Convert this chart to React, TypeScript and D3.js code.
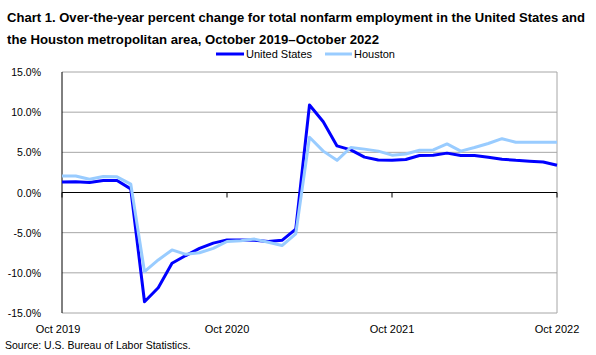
import React from "react";
import * as d3 from "d3";

const usValues = [1.3, 1.35, 1.25, 1.5, 1.5, 0.45, -13.6, -11.85, -8.8, -7.85, -6.95, -6.3, -5.9, -5.9, -5.95, -6.1, -5.95, -4.55, 10.9, 8.8, 5.8, 5.3, 4.4, 4.05, 4.0, 4.1, 4.6, 4.65, 4.9, 4.6, 4.6, 4.4, 4.15, 4.0, 3.9, 3.8, 3.4];
const houstonValues = [2.05, 2.05, 1.65, 2.0, 1.95, 1.05, -9.85, -8.4, -7.15, -7.7, -7.5, -6.95, -6.1, -6.0, -5.8, -6.2, -6.6, -5.15, 6.87, 5.15, 4.0, 5.6, 5.4, 5.15, 4.65, 4.8, 5.25, 5.3, 6.05, 5.15, 5.6, 6.1, 6.7, 6.25, 6.25, 6.25, 6.25];
const xTickIndex = [0, 12, 24, 36];
const xTickLabels = ["Oct 2019", "Oct 2020", "Oct 2021", "Oct 2022"];
const yTicks = [-15, -10, -5, 0, 5, 10, 15];
const seriesNames = ["United States", "Houston"];

const US_COLOR = "#0000FF";
const HOU_COLOR = "#99CCFF";
const FONT = "'Liberation Sans', Arial, sans-serif";

export default function App() {
  const W = 596, H = 355;
  const x = d3.scaleLinear().domain([0, 36]).range([62, 557]);
  const y = d3.scaleLinear().domain([-15, 15]).range([313, 72]);
  const line = d3
    .line<number>()
    .x((_, i) => x(i))
    .y((d) => y(d));

  return (
    <svg width={W} height={H} style={{ position: "absolute", left: 0, top: 0, background: "#fff" }}>
      <rect width={W} height={H} fill="#fff" />
      <text x={7} y={22} fontFamily={FONT} fontWeight="bold" fontSize={12.5} textLength={578} lengthAdjust="spacingAndGlyphs" fill="#000">
        Chart 1. Over-the-year percent change for total nonfarm employment in the United States and
      </text>
      <text x={7} y={44} fontFamily={FONT} fontWeight="bold" fontSize={13.5} textLength={372} lengthAdjust="spacingAndGlyphs" fill="#000">
        the Houston metropolitan area, October 2019–October  2022
      </text>

      {/* legend */}
      <line x1={216} x2={244} y1={54} y2={54} stroke={US_COLOR} strokeWidth={3} />
      <text x={246} y={58} fontFamily={FONT} fontSize={11} fill="#000">{seriesNames[0]}</text>
      <line x1={325} x2={352} y1={54} y2={54} stroke={HOU_COLOR} strokeWidth={3} />
      <text x={354} y={58} fontFamily={FONT} fontSize={11} fill="#000">{seriesNames[1]}</text>

      {/* gridlines */}
      {yTicks.map((t) =>
        t === 0 ? null : (
          <line key={t} x1={x(0)} x2={x(36)} y1={y(t)} y2={y(t)} stroke="#A6A6A6" strokeWidth={1} />
        )
      )}
      <line x1={x(36)} x2={x(36)} y1={y(15)} y2={y(-15)} stroke="#A6A6A6" strokeWidth={1} />
      {yTicks.map((t) => (
        <text key={t} x={41} y={y(t) + 4} textAnchor="end" fontFamily={FONT} fontSize={10.5} fill="#000">
          {t.toFixed(1) + "%"}
        </text>
      ))}

      {/* axes */}
      <line x1={x(0)} x2={x(0)} y1={y(15)} y2={y(-15)} stroke="#000" strokeWidth={1} />
      <line x1={x(0)} x2={x(36)} y1={y(0)} y2={y(0)} stroke="#000" strokeWidth={1} />
      {xTickIndex.map((i) => (
        <line key={i} x1={x(i)} x2={x(i)} y1={y(0)} y2={y(0) + 5} stroke="#000" strokeWidth={1} />
      ))}
      {xTickIndex.map((i, k) => (
        <text key={i} x={x(i) - (k === 0 ? 4 : 0)} y={333} textAnchor="middle" fontFamily={FONT} fontSize={11} fill="#000">
          {xTickLabels[k]}
        </text>
      ))}

      <path d={line(usValues) || ""} fill="none" stroke={US_COLOR} strokeWidth={3} strokeLinejoin="round" />
      <path d={line(houstonValues) || ""} fill="none" stroke={HOU_COLOR} strokeWidth={3} strokeLinejoin="round" />

      <text x={5} y={349} fontFamily={FONT} fontSize={10.5} fill="#000">
        Source: U.S. Bureau of Labor Statistics.
      </text>
    </svg>
  );
}
